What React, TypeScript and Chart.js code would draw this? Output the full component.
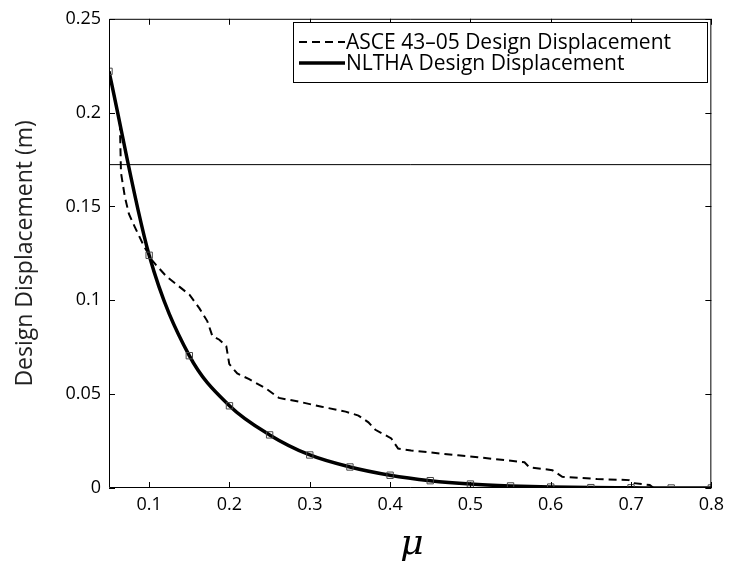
import React, { useEffect, useRef } from "react";
import { Chart, registerables } from "chart.js";
Chart.register(...registerables);

const muNLTHA = [0.05, 0.1, 0.15, 0.2, 0.25, 0.3, 0.35, 0.4, 0.45, 0.5, 0.55, 0.6, 0.65, 0.7, 0.75, 0.8];
const dispNLTHA = [0.222, 0.124, 0.0705, 0.0438, 0.0283, 0.0176, 0.0112, 0.0068, 0.0039, 0.0021, 0.0011, 0.0005, 0.0002, 0.0001, 0.0, 0.0];

const muASCE = [0.05, 0.0636, 0.0649, 0.0698, 0.0748, 0.0822, 0.0933, 0.1032, 0.1082, 0.1218, 0.1354, 0.1502, 0.1626, 0.1725, 0.1787, 0.1874, 0.196, 0.1998, 0.2097, 0.2245, 0.2455, 0.2616, 0.2864, 0.3148, 0.3446, 0.3606, 0.373, 0.3817, 0.4015, 0.41, 0.4262, 0.4844, 0.5092, 0.5673, 0.5735, 0.602, 0.6144, 0.6577, 0.6973, 0.7035, 0.7233, 0.7282, 0.8];
const dispASCE = [0.222, 0.194, 0.168, 0.155, 0.146, 0.139, 0.129, 0.1216, 0.119, 0.1126, 0.108, 0.103, 0.0957, 0.0888, 0.081, 0.079, 0.0756, 0.066, 0.061, 0.058, 0.053, 0.048, 0.046, 0.0433, 0.0407, 0.0386, 0.035, 0.031, 0.0264, 0.021, 0.02, 0.0174, 0.0164, 0.0137, 0.011, 0.0095, 0.006, 0.0048, 0.0042, 0.0026, 0.0016, 0.0, 0.0];

const thresholdValue = 0.1723;
const xTicks = [0.1, 0.2, 0.3, 0.4, 0.5, 0.6, 0.7, 0.8];
const yTicks = [0, 0.05, 0.1, 0.15, 0.2, 0.25];
const legendLabels = ["ASCE 43\u201305 Design Displacement", "NLTHA Design Displacement"];
const xTitle = "\u03BC";
const yTitle = "Design Displacement (m)";

const FONT = "'Open Sans', sans-serif";

const decorPlugin = {
  id: "decor",
  afterDatasetsDraw(chart: any) {
    const ctx = chart.ctx;
    const { left, right, top, bottom } = chart.chartArea;
    const xs = chart.scales.x;
    const ys = chart.scales.y;
    ctx.save();
    ctx.strokeStyle = "#000";
    ctx.lineWidth = 1;
    ctx.beginPath();
    ctx.rect(left + 0.5, top + 0.5, right - left - 1, bottom - top - 1);
    ctx.stroke();
    const tl = 6;
    ctx.beginPath();
    xTicks.forEach((v) => {
      const px = Math.round(xs.getPixelForValue(v)) + 0.5;
      ctx.moveTo(px, bottom);
      ctx.lineTo(px, bottom - tl);
      ctx.moveTo(px, top);
      ctx.lineTo(px, top + tl);
    });
    yTicks.forEach((v) => {
      const py = Math.round(ys.getPixelForValue(v)) + 0.5;
      ctx.moveTo(left, py);
      ctx.lineTo(left + tl, py);
      ctx.moveTo(right, py);
      ctx.lineTo(right - tl, py);
    });
    ctx.stroke();

    // legend
    const lx = 293, ly = 22, lw = 414, lh = 60;
    ctx.fillStyle = "#fff";
    ctx.fillRect(lx, ly, lw, lh);
    ctx.strokeRect(lx + 0.5, ly + 0.5, lw, lh);
    ctx.font = `21px ${FONT}`;
    ctx.fillStyle = "#000";
    ctx.textBaseline = "middle";
    ctx.textAlign = "left";
    const rows = [42, 63];
    ctx.beginPath();
    ctx.lineWidth = 2;
    ctx.setLineDash([8, 5]);
    ctx.moveTo(299, rows[0]);
    ctx.lineTo(345, rows[0]);
    ctx.stroke();
    ctx.setLineDash([]);
    ctx.beginPath();
    ctx.lineWidth = 3.5;
    ctx.moveTo(299, rows[1]);
    ctx.lineTo(345, rows[1]);
    ctx.stroke();
    ctx.fillText(legendLabels[0], 346, rows[0] + 1);
    ctx.fillText(legendLabels[1], 346, rows[1] + 1);

    // axis titles
    ctx.fillStyle = "#222";
    ctx.font = `23px ${FONT}`;
    ctx.textAlign = "center";
    ctx.save();
    ctx.translate(25, (top + bottom) / 2);
    ctx.rotate(-Math.PI / 2);
    ctx.fillText(yTitle, 0, 0);
    ctx.restore();
    ctx.font = `italic 36px 'DejaVu Serif', serif`;
    ctx.textBaseline = "alphabetic";
    ctx.fillStyle = "#000";
    ctx.fillText(xTitle, 412, 554);
    ctx.restore();
  },
};

export default function App() {
  const ref = useRef<HTMLCanvasElement>(null);
  useEffect(() => {
    if (!ref.current) return;
    const chart = new Chart(ref.current, {
      type: "scatter",
      data: {
        datasets: [
          {
            label: legendLabels[1],
            data: muNLTHA.map((x, i) => ({ x, y: dispNLTHA[i] })),
            showLine: true,
            borderColor: "#000",
            borderWidth: 3.5,
            cubicInterpolationMode: "monotone",
            pointStyle: "rect",
            pointRadius: 4.5,
            pointBorderColor: "#444",
            pointBackgroundColor: "rgba(0,0,0,0)",
            pointBorderWidth: 1,
            order: 0,
          },
          {
            label: legendLabels[0],
            data: muASCE.map((x, i) => ({ x, y: dispASCE[i] })),
            showLine: true,
            borderColor: "#000",
            borderWidth: 2,
            borderDash: [8, 5],
            pointRadius: 0,
            tension: 0,
            order: 1,
          },
          {
            label: "threshold",
            data: [
              { x: 0.05, y: thresholdValue },
              { x: 0.8, y: thresholdValue },
            ],
            showLine: true,
            borderColor: "#000",
            borderWidth: 1,
            pointRadius: 0,
            order: 2,
          },
        ],
      } as any,
      options: {
        animation: false,
        responsive: false,
        layout: { padding: { left: 0, right: 15, top: 15, bottom: 0 } },
        plugins: { legend: { display: false }, tooltip: { enabled: false } },
        scales: {
          x: {
            type: "linear",
            min: 0.05,
            max: 0.8,
            grid: { display: false, drawTicks: false },
            border: { display: false },
            afterBuildTicks: (s: any) => {
              s.ticks = xTicks.map((v) => ({ value: v }));
            },
            afterFit: (s: any) => {
              s.height = 86;
            },
            ticks: {
              padding: 6,
              color: "#000",
              font: { family: FONT, size: 18 },
              maxRotation: 0,
              autoSkip: false,
              callback: (v: any) => String(Number(Number(v).toFixed(2))),
            },
          },
          y: {
            type: "linear",
            min: 0,
            max: 0.25,
            grid: { display: false, drawTicks: false },
            border: { display: false },
            afterBuildTicks: (s: any) => {
              s.ticks = yTicks.map((v) => ({ value: v }));
            },
            afterFit: (s: any) => {
              s.width = 109;
            },
            ticks: {
              padding: 8,
              color: "#000",
              font: { family: FONT, size: 18 },
              autoSkip: false,
              callback: (v: any) => String(Number(Number(v).toFixed(2))),
            },
          },
        },
      } as any,
      plugins: [decorPlugin],
    });
    return () => chart.destroy();
  }, []);
  return (
    <div style={{ position: "fixed", left: 0, top: 0, width: 730, height: 574, background: "#fff" }}>
      <canvas ref={ref} width={730} height={574} style={{ width: 730, height: 574 }} />
    </div>
  );
}
